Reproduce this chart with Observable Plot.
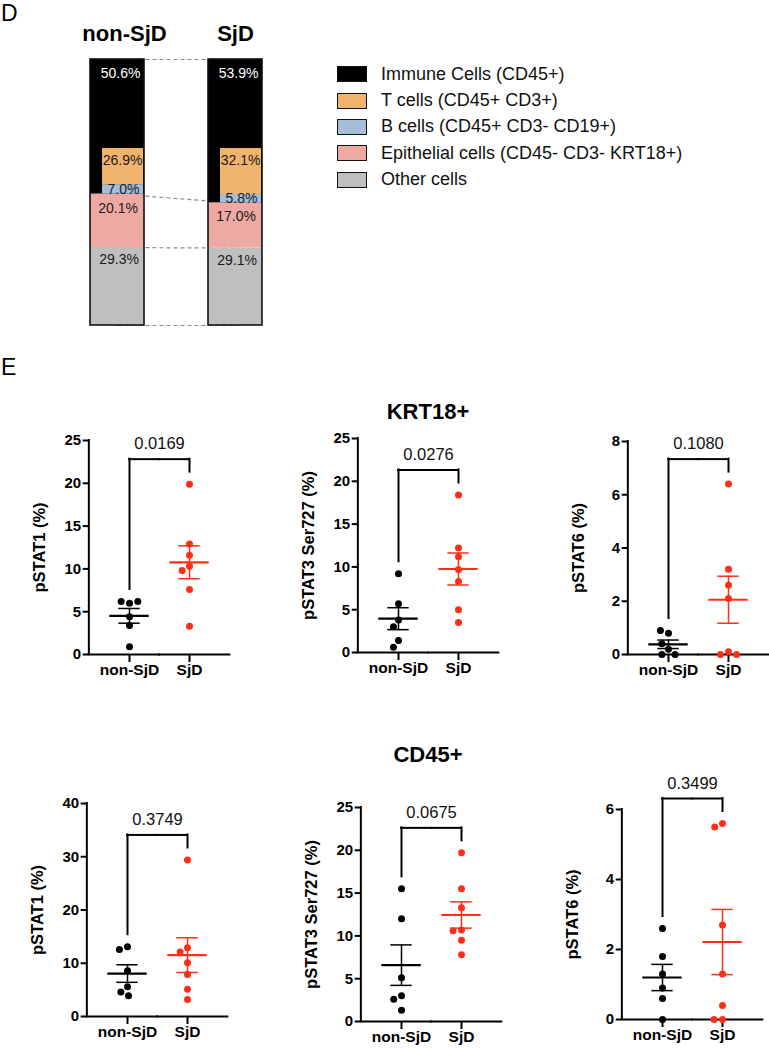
<!DOCTYPE html>
<html lang="en">
<head>
<meta charset="UTF-8">
<title>SjD — cell composition and pSTAT levels</title>
<script src="https://cdn.jsdelivr.net/npm/d3@7"></script>
<script src="https://cdn.jsdelivr.net/npm/@observablehq/plot@0.6"></script>
<style>
  body { margin: 0; background: #fff; font-family: "Liberation Sans", Arial, Helvetica, sans-serif; color: #000; }
  #fig { position: relative; width: 769px; height: 1049px; overflow: hidden; }
  #fig > * { position: absolute; }
  .letter { font-size: 23px; line-height: 1; }
  .title { font-size: 22px; font-weight: bold; transform: translate(-50%, -50%); white-space: nowrap; }
  .legend .row { display: flex; align-items: center; height: 26.4px; font-size: 18px; color: #111; white-space: nowrap; }
  .legend .sw { box-sizing: border-box; width: 30px; height: 16px; border: 1.6px solid #111; margin-right: 14px; }
</style>
</head>
<body>
<div id="fig"></div>
<script>
// ---- data -------------------------------------------------------------
const groups = ["non-SjD", "SjD"];

// panel D: composition of the cells (%)
const cellTypes = ["Immune Cells (CD45+)", "T cells (CD45+ CD3+)", "B cells (CD45+ CD3- CD19+)", "Epithelial cells (CD45- CD3- KRT18+)", "Other cells"];
const cellColors = ["#000000", "#f0b46c", "#a7bedb", "#eeaaa2", "#bfbfbf"];
const immunePct = [50.6, 53.9];
const tCellPct = [26.9, 32.1];   // share of the immune cells
const bCellPct = [7.0, 5.8];     // share of the immune cells
const epithelialPct = [20.1, 17.0];
const otherPct = [29.3, 29.1];

// panel E: individual values (%)
const krtStat1Non = [6.0, 6.2, 6.2, 4.4, 3.4, 0.9];
const krtStat1SjD = [10.3, 9.8, 19.9, 12.9, 11.6, 7.6, 3.3];
const krtStat3Non = [9.2, 5.7, 3.8, 3.0, 1.4, 0.6];
const krtStat3SjD = [18.4, 12.2, 11.2, 9.7, 8.3, 5.0, 3.5];
const krtStat6Non = [0.2, 0.8, 0.9, 0.4, 0, 0];
const krtStat6SjD = [0.1, 0, 0, 6.4, 3.2, 2.6, 2.1];
const cdStat1Non = [13.1, 12.6, 8.6, 5.6, 4.6, 3.9];
const cdStat1SjD = [29.4, 12.9, 12.1, 10.1, 7.9, 5.1, 3.2];
const cdStat3Non = [15.5, 12.0, 5.1, 3.0, 2.6, 1.3];
const cdStat3SjD = [19.7, 15.5, 13.3, 10.7, 10.6, 9.5, 7.8];
const cdStat6Non = [2.6, 1.8, 1.3, 0.9, 0.6, 0];
const cdStat6SjD = [5.6, 5.5, 2.7, 1.3, 0.4, 0, 0];

const pValues = ["0.0169", "0.0276", "0.1080", "0.3749", "0.0675", "0.3499"];
const yLabels = ["pSTAT1 (%)", "pSTAT3 Ser727 (%)", "pSTAT6 (%)", "pSTAT1 (%)", "pSTAT3 Ser727 (%)", "pSTAT6 (%)"];
const yDomains = [[0, 25], [0, 25], [0, 8], [0, 40], [0, 25], [0, 6]];
const yTicks = [[0, 5, 10, 15, 20, 25], [0, 5, 10, 15, 20, 25], [0, 2, 4, 6, 8], [0, 10, 20, 30, 40], [0, 5, 10, 15, 20, 25], [0, 2, 4, 6]];
const sectionTitles = ["KRT18+", "CD45+"];

// ---- page -------------------------------------------------------------
const FONT = "'Liberation Sans', Arial, Helvetica, sans-serif";
const RED = "#ff2e17";
const fig = document.getElementById("fig");

function place(el, left, top) {
  el.style.left = left + "px";
  el.style.top = top + "px";
  fig.append(el);
  return el;
}
function label(text, cls, left, top) {
  const d = document.createElement("div");
  d.className = cls;
  d.textContent = text;
  return place(d, left, top);
}

label("D", "letter", 1, 2);
label("E", "letter", 1, 356);
label(sectionTitles[0], "title", 428, 412);
label(sectionTitles[1], "title", 428, 755);

// ---- D: stacked bars ----------------------------------------------------
const stackRows = groups.flatMap((g, i) => [
  {group: g, cell: cellTypes[4], value: otherPct[i]},
  {group: g, cell: cellTypes[3], value: epithelialPct[i]},
  {group: g, cell: cellTypes[0], value: immunePct[i]}
]);
const immuneBase = groups.map((g, i) => otherPct[i] + epithelialPct[i]);
const bTop = groups.map((g, i) => immuneBase[i] + immunePct[i] * bCellPct[i] / 100);
const tTop = groups.map((g, i) => bTop[i] + immunePct[i] * tCellPct[i] / 100);
const subRows = groups.flatMap((g, i) => [
  {group: g, cell: cellTypes[2], y1: immuneBase[i], y2: bTop[i]},
  {group: g, cell: cellTypes[1], y1: bTop[i], y2: tTop[i]}
]);
const joins = [
  {y1: 100, y2: 100},
  {y1: immuneBase[0], y2: immuneBase[1]},
  {y1: otherPct[0], y2: otherPct[1]},
  {y1: 0, y2: 0}
];
const fmt = d3.format(".1f");
const labelSpecs = [
  {values: immunePct, y: i => 100, dy: 14, dx: 23, fill: "#fff"},
  {values: tCellPct, y: i => tTop[i], dy: 12, dx: 25},
  {values: bCellPct, y: i => (immuneBase[i] + bTop[i]) / 2, dy: 0, dx: 22},
  {values: epithelialPct, y: i => immuneBase[i], dy: 14, dx: 20.5},
  {values: otherPct, y: i => otherPct[i], dy: 12, dx: 21.5}
];
const header = {frameAnchor: "top", lineAnchor: "middle", dy: -26, text: d => d, fontSize: 22, fontWeight: "bold", fill: "#000"};

const stackPlot = Plot.plot({
  width: 300,
  height: 340,
  marginLeft: 89,
  marginRight: 38,
  marginTop: 59,
  marginBottom: 15,
  style: {fontFamily: FONT, background: "none", overflow: "visible"},
  x: {domain: groups, paddingInner: 0.546, paddingOuter: 0, axis: null},
  y: {domain: [0, 100], axis: null},
  color: {domain: cellTypes, range: cellColors},
  marks: [
    Plot.link(joins, {x1: () => groups[0], x2: () => groups[1], y1: "y1", y2: "y2", stroke: "#8c8c8c", strokeWidth: 1.2, strokeDasharray: "4,3"}),
    Plot.barY(stackRows, {x: "group", y: "value", fill: "cell"}),
    Plot.barY(subRows, {x: "group", y1: "y1", y2: "y2", fill: "cell", insetLeft: 12, insetRight: 1}),
    Plot.barY(groups, {x: d => d, y1: 0, y2: 100, fill: "none", stroke: "#111", strokeWidth: 1.6}),
    ...labelSpecs.map(s => Plot.text(groups.map((g, i) => ({group: g, y: s.y(i), text: fmt(s.values[i]) + "%"})), {
      x: "group", y: "y", text: "text", dx: s.dx, dy: s.dy, textAnchor: "end",
      fill: s.fill || "#1a1a1a", fontSize: 14
    })),
    Plot.text(groups.slice(0, 1), {x: d => d, dx: 7, ...header}),
    Plot.text(groups.slice(1), {x: d => d, ...header})
  ]
});
place(stackPlot, 0, 0);

// legend
const legend = document.createElement("div");
legend.className = "legend";
cellTypes.forEach((c, i) => {
  const row = document.createElement("div");
  row.className = "row";
  const sw = document.createElement("span");
  sw.className = "sw";
  sw.style.background = cellColors[i];
  const t = document.createElement("span");
  t.textContent = c;
  row.append(sw, t);
  legend.append(row);
});
place(legend, 337, 61);

// ---- E: dot plots with mean ± SEM ---------------------------------------
const mean = v => d3.mean(v);
const sem = v => d3.deviation(v) / Math.sqrt(v.length);
const semHi = v => mean(v) + sem(v);
const semLo = v => mean(v) - sem(v);

const INNER_W = 142;
const PAD_OUTER = 0.17;
const STEP = INNER_W / (2 + 2 * PAD_OUTER);   // one facet per group, no inner padding
const EDGE = PAD_OUTER * STEP;                 // gap between the y axis and the first facet

function dotPanel(nonVals, sjdVals, k, innerH) {
  const pts = [
    ...nonVals.map(v => ({group: groups[0], value: v})),
    ...sjdVals.map(v => ({group: groups[1], value: v}))
  ];
  const maxNon = d3.max(nonVals);
  const maxSjd = d3.max(sjdVals);
  const top = Math.max(maxNon, maxSjd);
  const legs = [{group: groups[0], y1: top, y2: maxNon}, {group: groups[1], y1: top, y2: maxSjd}];
  const first = [{group: groups[0], label: yLabels[k], p: pValues[k]}];
  const last = [{group: groups[1]}];
  const line = {stroke: "#000", strokeWidth: 2, strokeLinecap: "square"};

  return Plot.plot({
    width: 70 + INNER_W + 12,
    height: innerH + 92,
    marginLeft: 70,
    marginRight: 12,
    marginTop: 60,
    marginBottom: 32,
    style: {fontFamily: FONT, background: "none", overflow: "visible"},
    fx: {domain: groups, paddingInner: 0, paddingOuter: PAD_OUTER},
    y: {domain: yDomains[k]},
    color: {domain: groups, range: ["#000000", RED]},
    marks: [
      // axes
      Plot.ruleY(first, {fx: "group", y: () => 0, insetLeft: -EDGE, ...line}),
      Plot.ruleY(last, {fx: "group", y: () => 0, insetRight: -EDGE, ...line}),
      Plot.ruleX(first, {fx: "group", x: null, y1: yDomains[k][0], y2: yDomains[k][1], dx: -(STEP / 2 + EDGE), ...line}),
      Plot.axisY({ticks: yTicks[k], tickFormat: "d", dx: -EDGE, tickSize: 6, tickPadding: 2, strokeWidth: 2,
        fontSize: 15, fontWeight: "bold", label: null}),
      Plot.axisFx({anchor: "bottom", tickSize: 8, tickPadding: 1, strokeWidth: 2,
        fontSize: 15.5, fontWeight: "bold", label: null}),
      Plot.text(first, {fx: "group", frameAnchor: "left", textAnchor: "middle", dx: -(EDGE + 49), rotate: -90,
        text: "label", fontSize: 16.5, fontWeight: "bold", fill: "#000"}),
      // comparison bracket and p value
      Plot.ruleX(legs, {fx: "group", x: null, y1: "y1", y2: "y2", insetTop: -25, insetBottom: 12, ...line}),
      Plot.ruleY(legs.slice(0, 1), {fx: "group", y: "y1", dy: -25, insetLeft: 30, ...line}),
      Plot.ruleY(legs.slice(1), {fx: "group", y: "y1", dy: -25, insetRight: 30, ...line}),
      Plot.text(first, {fx: "group", frameAnchor: "right", textAnchor: "middle", y: () => top, dy: -40, text: "p", fontSize: 16.5, fill: "#111"}),
      // mean and SEM
      Plot.ruleY(pts, Plot.groupZ({y: mean}, {fx: "group", y: "value", stroke: "group", strokeWidth: 2.2, insetLeft: 10.3, insetRight: 10.3})),
      Plot.ruleY(pts, Plot.groupZ({y: semHi}, {fx: "group", y: "value", stroke: "group", strokeWidth: 1.5, insetLeft: 19.3, insetRight: 19.3})),
      Plot.ruleY(pts, Plot.groupZ({y: semLo}, {fx: "group", y: "value", stroke: "group", strokeWidth: 1.5, insetLeft: 19.3, insetRight: 19.3})),
      Plot.ruleX(pts, Plot.groupZ({y1: semLo, y2: semHi}, {fx: "group", x: null, y1: "value", y2: "value", stroke: "group", strokeWidth: 1.5})),
      // individual samples
      Plot.dot(pts, Plot.dodgeX({anchor: "middle", padding: 1.5, fx: "group", y: "value", r: 3.5, fill: "group"}))
    ]
  });
}

// axis position (left, top of the value range) and height of each panel
const panelBoxes = [[88, 440, 214], [357, 438, 214], [627, 441, 213], [86, 803, 213], [360, 807, 214], [621, 809, 210]];
const panelData = [
  [krtStat1Non, krtStat1SjD], [krtStat3Non, krtStat3SjD], [krtStat6Non, krtStat6SjD],
  [cdStat1Non, cdStat1SjD], [cdStat3Non, cdStat3SjD], [cdStat6Non, cdStat6SjD]
];
panelData.forEach(([a, b], k) => {
  const [ax, ay, h] = panelBoxes[k];
  place(dotPanel(a, b, k, h), ax - 70, ay - 60);
});
</script>
</body>
</html>
